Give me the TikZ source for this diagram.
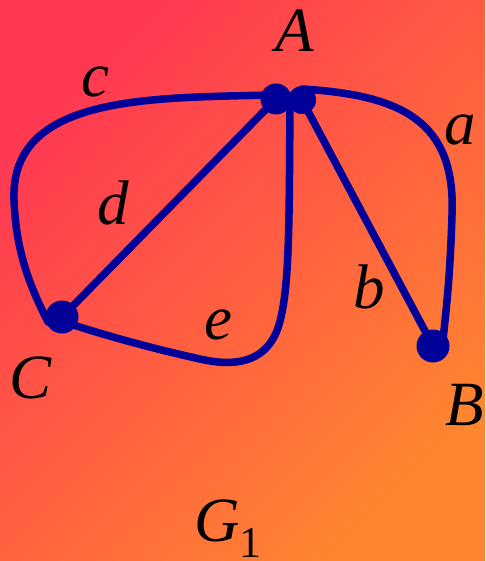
\documentclass[tikz,border=0pt]{standalone}
\usepackage{fontspec}
\setmainfont{Liberation Serif}
\begin{document}
\begin{tikzpicture}[x=1pt,y=-1pt,
  edge/.style={draw=edgeblue,line width=7.5pt,line cap=round},
  dot/.style={circle,fill=edgeblue,inner sep=0pt},
  lbl/.style={inner sep=0pt,font=\fontsize{63}{63}\selectfont\itshape}]
\definecolor{edgeblue}{HTML}{000099}
\definecolor{bgtl}{HTML}{FF3852}
\definecolor{bgbr}{HTML}{FF8530}
\useasboundingbox (0,0) rectangle (485,561);
\shade[top color=bgtl,bottom color=bgbr,shading angle=45] (0,0) rectangle (485,561);
% positions
\coordinate (pA1) at (276,99);
\coordinate (pA2) at (302,100);
\coordinate (pB) at (433,346);
\coordinate (pC) at (62,317);
\coordinate (cS) at (272,95);
\coordinate (cE) at (48,322);
\coordinate (aS) at (302,89);
\coordinate (aE) at (443,340);
\coordinate (eS) at (290,104);
\coordinate (eE) at (58,320);
% edges
\draw[edge] (cS) .. controls (150,98) and (10,95) .. (14,200) .. controls (16,255) and (32,290) .. (cE);
\draw[edge] (pA1) -- (pC);
\draw[edge] (eS) .. controls (289,230) and (290,300) .. (276,333) .. controls (263,362) and (235,367) .. (200,359) .. controls (150,348) and (100,334) .. (eE);
\draw[edge] (pA2) -- (pB);
\draw[edge] (aS) .. controls (400,95) and (456,120) .. (452,215) .. controls (450,280) and (446,310) .. (aE);
% dots
\node[dot,minimum size=31pt] (A1) at (pA1) {};
\node[dot,minimum size=28pt] (A2) at (pA2) {};
\node[dot,minimum size=33pt] (B) at (pB) {};
\node[dot,minimum size=33pt] (C) at (pC) {};
% labels
\node[lbl] (lA) at (295,31) {A};
\node[lbl] (lB) at (465,405) {B};
\node[lbl] (lC) at (31,378) {C};
\node[lbl] (la) at (460,130) {a};
\node[lbl] (lb) at (369,287) {b};
\node[lbl] (lc) at (95,82) {c};
\node[lbl] (ld) at (113,203) {d};
\node[lbl] (le) at (218,325) {e};
\node[lbl,anchor=base west] (lG) at (194,541) {G\raisebox{-16pt}{\fontsize{44}{44}\selectfont\upshape 1}};
\end{tikzpicture}
\end{document}
